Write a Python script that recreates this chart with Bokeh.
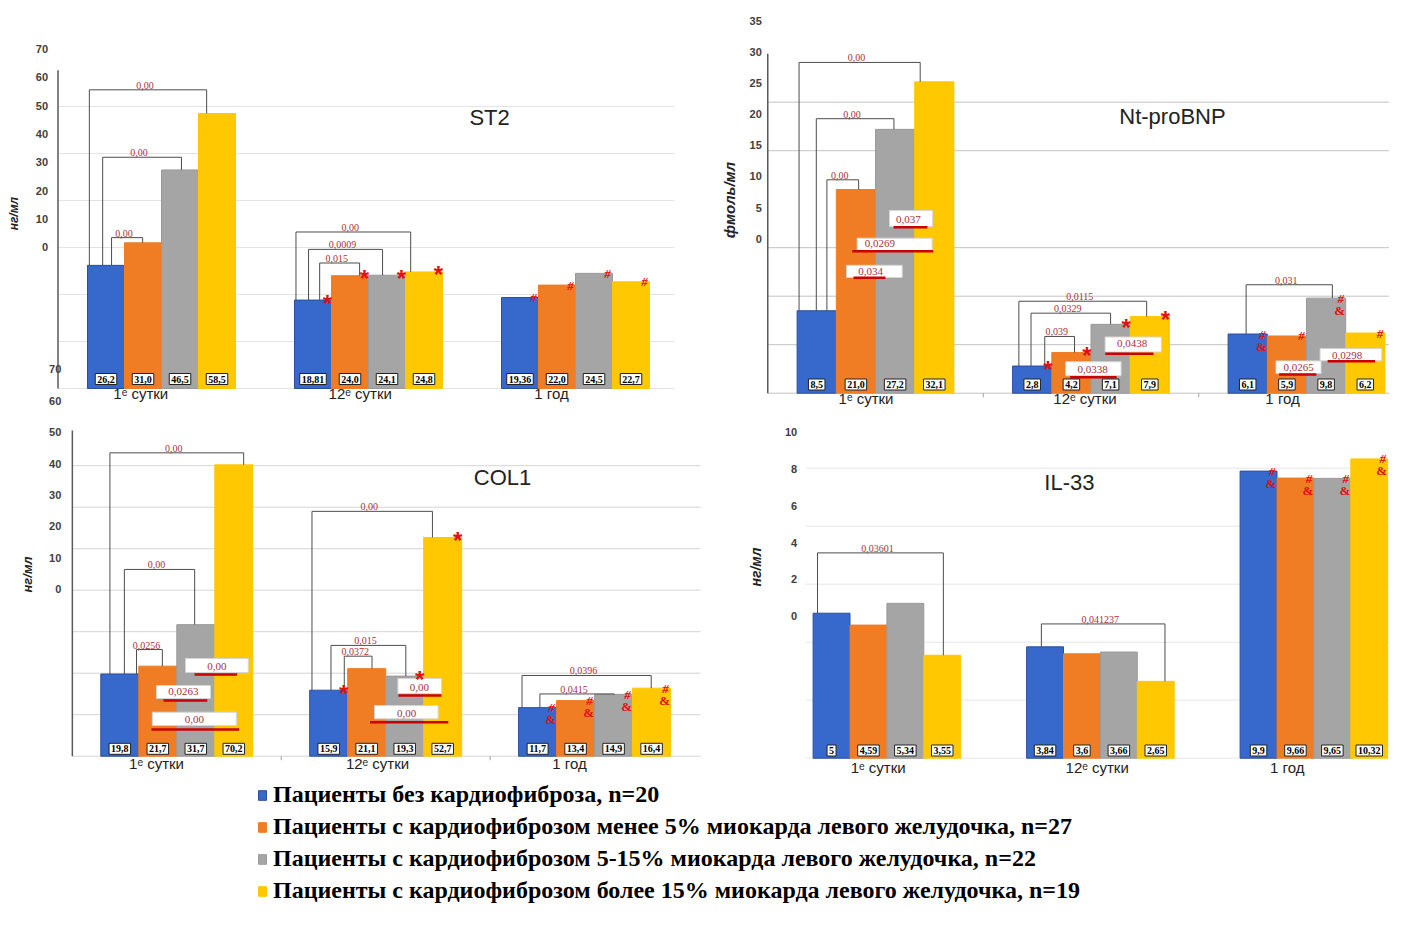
import math
from bokeh.plotting import figure
from bokeh.models import Range1d, Legend, LegendItem
from bokeh.embed import file_html
from bokeh.resources import INLINE
from bokeh.core.properties import value

# ---------------- data ----------------
GROUPS = ["1ᵉ сутки", "12ᵉ сутки", "1 год"]
SERIES = [
    "Пациенты без кардиофиброза, n=20",
    "Пациенты с кардиофиброзом менее 5% миокарда левого желудочка, n=27",
    "Пациенты с кардиофиброзом 5-15% миокарда левого желудочка, n=22",
    "Пациенты с кардиофиброзом более 15% миокарда левого желудочка, n=19",
]

ST2_VALUES = [[26.2, 31.0, 46.5, 58.5], [18.81, 24.0, 24.1, 24.8], [19.36, 22.0, 24.5, 22.7]]
NT_VALUES = [[8.5, 21.0, 27.2, 32.1], [2.8, 4.2, 7.1, 7.9], [6.1, 5.9, 9.8, 6.2]]
COL1_VALUES = [[19.8, 21.7, 31.7, 70.2], [15.9, 21.1, 19.3, 52.7], [11.7, 13.4, 14.9, 16.4]]
IL33_VALUES = [[5, 4.59, 5.34, 3.55], [3.84, 3.6, 3.66, 2.65], [9.9, 9.66, 9.65, 10.32]]

ST2_TICKS = [0, 10, 20, 30, 40, 50, 60, 70]
NT_TICKS = [0, 5, 10, 15, 20, 25, 30, 35]
COL1_TICKS = [0, 10, 20, 30, 40, 50, 60, 70]
IL33_TICKS = [0, 2, 4, 6, 8, 10]

ST2_GRID = [0, 10, 20, 30, 40, 50, 60]
NT_GRID = [0, 5, 10, 15, 25, 30]
COL1_GRID = [0, 10, 20, 30, 40, 50, 60, 70]
IL33_GRID = [0, 2, 4, 6, 8, 10]

# brackets: (group, from bar, to bar, p-value)
ST2_BRACKETS = [(0, 0, 3, "0,00"), (0, 0, 2, "0,00"), (0, 0, 1, "0,00"),
                (1, 0, 3, "0,00"), (1, 0, 2, "0,0009"), (1, 0, 1, "0,015")]
NT_BRACKETS = [(0, 0, 3, "0,00"), (0, 0, 2, "0,00"), (0, 0, 1, "0,00"),
               (1, 0, 3, "0,0115"), (1, 0, 2, "0,0329"), (1, 0, 1, "0,039"),
               (2, 0, 2, "0,031")]
COL1_BRACKETS = [(0, 0, 3, "0,00"), (0, 0, 2, "0,00"), (0, 0, 1, "0,0256"),
                 (1, 0, 3, "0,00"), (1, 0, 2, "0,015"), (1, 0, 1, "0,0372"),
                 (2, 0, 3, "0,0396"), (2, 0, 2, "0,0415")]
IL33_BRACKETS = [(0, 0, 3, "0,03601"), (1, 0, 3, "0,041237")]

# boxed p-values: (group, p-value)
NT_BOXES = [(0, "0,037"), (0, "0,0269"), (0, "0,034"), (1, "0,0438"), (1, "0,0338"),
            (2, "0,0265"), (2, "0,0298")]
COL1_BOXES = [(0, "0,00"), (0, "0,0263"), (0, "0,00"), (1, "0,00"), (1, "0,00")]

# significance marks: (group, bar, symbol)
ST2_MARKS = [(1, 0, "*"), (1, 1, "*"), (1, 2, "*"), (1, 3, "*"),
             (2, 0, "#"), (2, 1, "#"), (2, 2, "#"), (2, 3, "#")]
NT_MARKS = [(1, 0, "*"), (1, 1, "*"), (1, 2, "*"), (1, 3, "*"),
            (2, 0, "#"), (2, 0, "&"), (2, 1, "#"), (2, 2, "#"), (2, 2, "&"), (2, 3, "#")]
COL1_MARKS = [(1, 0, "*"), (1, 2, "*"), (1, 3, "*"),
              (2, 0, "#"), (2, 0, "&"), (2, 1, "#"), (2, 1, "&"),
              (2, 2, "#"), (2, 2, "&"), (2, 3, "#"), (2, 3, "&")]
IL33_MARKS = [(2, 0, "#"), (2, 0, "&"), (2, 1, "#"), (2, 1, "&"),
              (2, 2, "#"), (2, 2, "&"), (2, 3, "#"), (2, 3, "&")]

# ---------------- layout / style ----------------
COLORS = ["#3769CD", "#F07D23", "#A5A5A5", "#FFC800"]
EDGES = ["#2A4E9E", "#F07D23", "#9A9A9A", "#FFC800"]
PCOL = "#A8323A"
SANS = value("Liberation Sans")
SERIF = value("Liberation Serif")

# bracket geometry: (leg offset in bar i, leg offset in bar j [bar widths], level)
ST2_BGEOM = [(-0.45, -0.28, 63.55), (-0.09, 0.04, 49.2), (0.15, -0.01, 32.1),
             (-0.46, -0.36, 33.3), (-0.12, -0.12, 29.6), (0.18, 0.26, 26.7)]
NT_BGEOM = [(-0.45, -0.36, 34.1), (-0.01, -0.03, 28.3), (0.26, 0.07, 22.0),
            (-0.34, -0.08, 9.48), (-0.03, 0.0, 8.25), (0.32, 0.08, 5.85),
            (-0.04, 0.16, 11.18)]
COL1_BGEOM = [(-0.26, 0.26, 73.1), (0.12, -0.03, 45.0), (0.44, 0.12, 25.7),
              (-0.44, -0.27, 59.0), (0.06, 0.03, 26.7), (0.41, 0.14, 24.1),
              (-0.41, -0.01, 19.45), (0.06, 0.02, 15.0)]
IL33_BGEOM = [(-0.38, 0.03, 7.08), (-0.1, 0.25, 4.63)]

# box geometry: (cx, cy, w, h, tx, ty, line x0, line x1, line y)
NT_XGEOM = [(0.165, 18.0, 0.2, 1.65, 0.153, 17.9, 0.084, 0.241, 17.1),
            (0.089, 15.33, 0.348, 1.3, 0.02, 15.4, -0.108, 0.268, 14.64),
            (-0.005, 12.56, 0.258, 1.25, -0.023, 12.55, -0.102, 0.046, 11.9),
            (0.196, 5.02, 0.261, 1.55, 0.191, 5.09, 0.066, 0.29, 4.06),
            (0.011, 2.52, 0.257, 1.44, 0.007, 2.44, -0.097, 0.119, 1.65),
            (-0.037, 2.68, 0.209, 1.3, -0.037, 2.68, -0.127, 0.046, 1.93),
            (0.206, 3.97, 0.286, 1.25, 0.188, 3.89, 0.098, 0.318, 3.3)]
COL1_XGEOM = [(0.192, 21.86, 0.3, 3.37, 0.192, 21.7, 0.085, 0.289, 19.7),
              (0.032, 15.47, 0.259, 3.13, 0.032, 15.6, -0.064, 0.146, 13.4),
              (0.084, 9.0, 0.402, 3.2, 0.084, 8.77, -0.121, 0.299, 6.43),
              (0.163, 16.9, 0.209, 3.6, 0.161, 16.6, 0.061, 0.267, 14.6),
              (0.099, 10.6, 0.304, 3.2, 0.1, 10.36, -0.075, 0.3, 8.19)]

# mark offsets (px from bar top-right corner)
MARK_STYLE = {
    "*": dict(dx=-4, dy=3, size="24px", font=SANS, style="bold"),
    "#": dict(dx=-5, dy=0, size="13px", font=SERIF, style="bold italic"),
    "&": dict(dx=-6, dy=12, size="13px", font=SERIF, style="bold"),
}

W, H = 1389, 909
X0, Y0 = 0, 0

p = figure(width=W, height=H, x_range=Range1d(X0, X0 + W), y_range=Range1d(Y0 + H, Y0),
           output_backend="svg", toolbar_location=None,
           x_axis_location=None, y_axis_location=None, min_border=0)
p.outline_line_color = None
p.background_fill_color = "white"
p.grid.grid_line_color = None
p.grid.visible = False


def panel(key, values, ticks, grid, title, unit, brackets, bgeom, boxes, xgeom, marks, cal):
    xr, yr, tr = key + "_x", key + "_y", key + "_t"
    c0, s, b, k = cal["c0"], cal["s"], cal["b"], cal["k"]
    p.extra_x_ranges[xr] = Range1d((X0 - c0) / s, (X0 + W - c0) / s)
    p.extra_y_ranges[yr] = Range1d((b - (Y0 + H)) / k, (b - Y0) / k)
    z, kt = cal["z"], cal["kt"]
    p.extra_y_ranges[tr] = Range1d((z - (Y0 + H)) / kt, (z - Y0) / kt)
    R = dict(x_range_name=xr, y_range_name=yr)
    bw = cal["bar_px"] / s

    gx0, gx1 = cal["grid"]
    p.segment(x0=[gx0] * len(grid), x1=[gx1] * len(grid), y0=grid, y1=grid,
              line_color=cal["grid_color"], line_width=1, **R)
    if cal["axis_top"] is not None:
        p.segment(x0=[-0.5], x1=[-0.5], y0=[0], y1=[cal["axis_top"]],
                  line_color="#595959", line_width=1.5, **R)
    if cal["minor"]:
        p.segment(x0=[0.5, 1.5], x1=[0.5, 1.5], y0=[0, 0], y1=[-4 / k, -4 / k],
                  line_color="#A0A0A0", line_width=1, **R)

    rends = []
    for m in range(4):
        xs = [g + (m - 1.5) * bw for g in range(3)]
        tops = [values[g][m] for g in range(3)]
        r = p.vbar(x=xs, top=tops, bottom=0, width=bw, fill_color=COLORS[m],
                   line_color=EDGES[m], line_width=1, **R)
        rends.append(r)

    # brackets
    bxs, bys, lx, ly, lt = [], [], [], [], []
    for (g, i, j, txt), (fi, fj, lev) in zip(brackets, bgeom):
        xa = g + (i - 1.5) * bw + fi * bw
        xb = g + (j - 1.5) * bw + fj * bw
        bxs.append([xa, xa, xb, xb])
        bys.append([values[g][i], lev, lev, values[g][j]])
        lx.append((xa + xb) / 2)
        ly.append(lev)
        lt.append(txt)
    p.multi_line(xs=bxs, ys=bys, line_color="#4D4D4D", line_width=1, **R)
    p.text(x=lx, y=ly, text=lt, x_offset=-3, y_offset=-1, text_align="center",
           text_baseline="bottom", text_font=SERIF, text_font_size="10px",
           text_color=PCOL, **R)

    # boxed p-values
    if boxes:
        rx, ry, rw, rh, tx, ty, tt, l0, l1, lyy = [], [], [], [], [], [], [], [], [], []
        for (g, txt), (cx, cy, w, h, tcx, tcy, a0, a1, ay) in zip(boxes, xgeom):
            rx.append(g + cx); ry.append(cy); rw.append(w); rh.append(h)
            tx.append(g + tcx); ty.append(tcy); tt.append(txt)
            l0.append(g + a0); l1.append(g + a1); lyy.append(ay)
        p.rect(x=rx, y=ry, width=rw, height=rh, fill_color="white",
               line_color="#D5D5D5", line_width=1, **R)
        p.segment(x0=l0, x1=l1, y0=lyy, y1=lyy, line_color="#CC0000", line_width=2.5, **R)
        p.text(x=tx, y=ty, text=tt, text_align="center", text_baseline="middle",
               text_font=SERIF, text_font_size="11px", text_color=PCOL, **R)

    # significance marks
    for sym, st in MARK_STYLE.items():
        sel = [(g, m) for (g, m, sy) in marks if sy == sym]
        if not sel:
            continue
        p.text(x=[g + (m - 1.5) * bw + 0.5 * bw for g, m in sel],
               y=[values[g][m] for g, m in sel], text=[sym] * len(sel),
               x_offset=st["dx"], y_offset=st["dy"], text_align="center",
               text_baseline="middle", text_font=st["font"], text_font_style=st["style"],
               text_font_size=st["size"], text_color="#E01010", **R)

    # value labels at the foot of each bar
    vx = [g + (m - 1.5) * bw for g in range(3) for m in range(4)]
    vt = [str(values[g][m]).replace(".", ",") for g in range(3) for m in range(4)]
    p.text(x=vx, y=[0] * 12, text=vt, y_offset=-cal["val_dy"], text_align="center",
           text_baseline="middle", text_font=SERIF, text_font_style="bold",
           text_font_size="10px", text_color="black", background_fill_color="white",
           border_line_color="#222222", border_line_width=1, padding=2, **R)

    # category labels
    p.text(x=[g + cal["cat_shift"][g] for g in range(3)], y=[0, 0, 0], text=GROUPS,
           y_offset=cal["cat_dy"], text_align="center", text_baseline="middle",
           text_font=SANS, text_font_size="15px", text_color="#222222", **R)

    # tick labels (drawn on their own, offset scale as in the source)
    p.text(x=[-0.5] * len(ticks), y=ticks, text=[str(t) for t in ticks],
           x_offset=cal["tick_dx"], text_align="right", text_baseline="middle",
           text_font=SANS, text_font_style="bold", text_font_size="11px",
           text_color="#404040", x_range_name=xr, y_range_name=tr)

    # title and unit
    p.text(x=[cal["title"][0]], y=[cal["title"][1]], text=[title], text_align="center",
           text_baseline="middle", text_font=SANS, text_font_size="22px",
           text_color="#222222", **R)
    p.text(x=[cal["unit"][0]], y=[cal["unit"][1]], text=[unit], angle=math.pi / 2,
           text_align="center", text_baseline="middle", text_font=SANS,
           text_font_style="bold italic", text_font_size=cal["unit_size"],
           text_color="#222222", **R)
    return rends


st2_r = panel("st2", ST2_VALUES, ST2_TICKS, ST2_GRID, "ST2", "нг/мл",
              ST2_BRACKETS, ST2_BGEOM, [], [], ST2_MARKS,
              dict(c0=161, s=207, b=388, k=4.7, z=246.7, kt=2.83, bar_px=37, tick_dx=-10,
                   grid=(-0.5, 2.478), axis_top=67.7, grid_color="#E3E3E3", minor=False,
                   cat_dy=5, val_dy=9.5, cat_shift=[-0.10, -0.04, -0.116],
                   title=(1.585, 57.7), unit=(-0.713, 37.2), unit_size="12px"))
panel("nt", NT_VALUES, NT_TICKS, NT_GRID, "Nt-proBNP", "фмоль/мл",
      NT_BRACKETS, NT_BGEOM, NT_BOXES, NT_XGEOM, NT_MARKS,
      dict(c0=875, s=215.5, b=392.7, k=9.7, z=238.3, kt=6.237, bar_px=39.2, tick_dx=-6,
           grid=(-0.5, 2.46), axis_top=35.0, grid_color="#C2C2C2", minor=True,
           cat_dy=5.5, val_dy=8.7, cat_shift=[-0.044, -0.028, -0.111],
           title=(1.378, 28.5), unit=(-0.677, 19.9), unit_size="15px"))
panel("col1", COL1_VALUES, COL1_TICKS, COL1_GRID, "COL1", "нг/мл",
      COL1_BRACKETS, COL1_BGEOM, COL1_BOXES, COL1_XGEOM, COL1_MARKS,
      dict(c0=176.3, s=208.9, b=755.7, k=4.15, z=588.7, kt=3.14, bar_px=38, tick_dx=-11,
           grid=(-0.5, 2.507), axis_top=78.5, grid_color="#D6D6D6", minor=True,
           cat_dy=7, val_dy=7.4, cat_shift=[-0.097, -0.039, -0.12],
           title=(1.559, 67.2), unit=(-0.715, 43.8), unit_size="13px"))
panel("il33", IL33_VALUES, IL33_TICKS, IL33_GRID, "IL-33", "нг/мл",
      IL33_BRACKETS, IL33_BGEOM, [], [], IL33_MARKS,
      dict(c0=886.4, s=213.5, b=757.7, k=29.0, z=615.7, kt=18.4, bar_px=36.9, tick_dx=17,
           grid=(-0.381, 2.41), axis_top=None, grid_color="#E6E6E6", minor=False,
           cat_dy=9, val_dy=7.7, cat_shift=[-0.041, -0.015, -0.125],
           title=(0.855, 9.5), unit=(-0.611, 6.59), unit_size="14px"))

legend = Legend(items=[LegendItem(label=SERIES[m], renderers=[st2_r[m]]) for m in range(4)],
                location=(257, 5), orientation="vertical",
                glyph_width=10, glyph_height=12, label_standoff=6, spacing=5,
                padding=0, margin=0, border_line_color=None, background_fill_alpha=0,
                label_text_font="Liberation Serif", label_text_font_style="bold",
                label_text_font_size="24px", label_text_color="black", label_height=24)
p.add_layout(legend)

open("out.html", "w").write(file_html(p, INLINE))
